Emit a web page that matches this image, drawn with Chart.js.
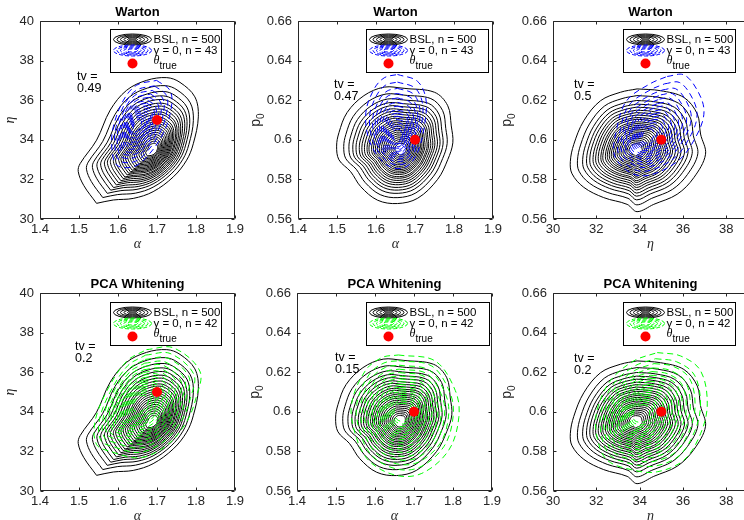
<!DOCTYPE html>
<html>
<head>
<meta charset="utf-8">
<script src="https://cdn.jsdelivr.net/npm/chart.js@4.4.1/dist/chart.umd.min.js"></script>
<style>
  body { margin: 0; background: #fff; }
  #fig { position: relative; width: 744px; height: 520px; overflow: hidden; background: #fff; }
  #fig canvas { position: absolute; }
</style>
</head>
<body>
<div id="fig"></div>
<script>
// tick labels
const alphaTicks = [1.4, 1.5, 1.6, 1.7, 1.8, 1.9];
const etaTicks = [30, 32, 34, 36, 38, 40];
const etaXTicks = [30, 32, 34, 36, 38];
const p0Ticks = [0.56, 0.58, 0.6, 0.62, 0.64, 0.66];

// true parameters: alpha, eta, p0
const thetaTrue = [1.7, 35, 0.6];

// row titles, sample sizes and tv values
const rowTitles = ['Warton', 'PCA Whitening'];
const nBSL = 500;
const nGamma = [43, 42];
const tvWarton = [0.49, 0.47, 0.5];
const tvPCA = [0.2, 0.15, 0.2];

const bslAE = [[1.545, 30.79], [1.512, 31.7], [1.498, 32.4], [1.503, 32.8], [1.545, 33.98], [1.58, 35.5],
  [1.622, 36.5], [1.673, 37.0], [1.725, 37.14], [1.759, 36.9], [1.797, 36.17], [1.806, 35.16],
  [1.793, 33.8], [1.776, 32.97], [1.742, 32.13], [1.69, 31.38], [1.639, 31.04], [1.588, 30.96]];
const bslAECentre = [1.69, 33.45];
const blueAE = [[1.699, 37.0], [1.733, 36.5], [1.737, 35.66], [1.716, 34.32], [1.674, 33.14], [1.639, 32.64],
  [1.597, 32.72], [1.584, 33.65], [1.588, 34.66], [1.614, 36.0], [1.648, 36.76]];
const blueAECentre = [1.648, 34.7];
const greenAE = [[1.673, 37.14], [1.742, 37.23], [1.81, 36.05], [1.8, 34.7], [1.776, 33.5], [1.725, 32.3],
  [1.656, 31.68], [1.58, 32.0], [1.545, 32.35], [1.541, 33.5], [1.571, 35.04], [1.622, 36.55]];
const greenAECentre = [1.655, 34.4];

const bslAP = [[1.672, 0.626], [1.75, 0.624], [1.784, 0.6172], [1.793, 0.607], [1.797, 0.5985], [1.784, 0.59],
  [1.758, 0.58], [1.707, 0.5705], [1.655, 0.5678], [1.604, 0.5695], [1.561, 0.5763], [1.535, 0.5839],
  [1.505, 0.5899], [1.499, 0.5968], [1.505, 0.6036], [1.526, 0.6138], [1.569, 0.6223], [1.621, 0.6266]];
const bslAPCentre = [1.665, 0.595];
const blueAP = [[1.655, 0.633], [1.706, 0.6296], [1.728, 0.6206], [1.724, 0.607], [1.706, 0.5934], [1.68, 0.5867],
  [1.646, 0.5857], [1.612, 0.59], [1.582, 0.6], [1.574, 0.6138], [1.595, 0.6256], [1.621, 0.6313]];
const blueAPCentre = [1.655, 0.601];
const greenAP = [[1.66, 0.6287], [1.754, 0.6257], [1.806, 0.6107], [1.815, 0.5973], [1.789, 0.5806], [1.72, 0.5689],
  [1.652, 0.568], [1.583, 0.5756], [1.549, 0.589], [1.54, 0.604], [1.575, 0.6207], [1.618, 0.6274]];
const greenAPCentre = [1.668, 0.6];

const bslEP = [[33.88, 0.6257], [34.96, 0.6248], [36.04, 0.6214], [36.66, 0.613], [36.81, 0.6029], [37.04, 0.5927],
  [36.5, 0.5809], [35.73, 0.5725], [34.65, 0.5674], [33.88, 0.5637], [33.42, 0.5674], [32.34, 0.5708],
  [31.42, 0.576], [30.88, 0.5828], [30.8, 0.589], [30.96, 0.5977], [31.42, 0.6096], [32.19, 0.6197], [33.11, 0.624]];
const bslEPCentre = [33.8, 0.595];
const blueEP = [[35.27, 0.632], [36.04, 0.6328], [36.66, 0.625], [36.97, 0.6145], [36.66, 0.6029], [35.73, 0.589],
  [34.04, 0.5818], [32.88, 0.591], [32.96, 0.6064], [33.42, 0.62], [34.5, 0.6284]];
const blueEPCentre = [34.3, 0.601];
const greenEP = [[34.81, 0.6299], [35.89, 0.6282], [36.81, 0.6207], [37.12, 0.604], [36.81, 0.5889], [36.04, 0.5756],
  [34.81, 0.5697], [33.73, 0.5705], [32.5, 0.5756], [32.03, 0.5873], [32.03, 0.6006], [32.65, 0.6157], [33.73, 0.6257]];
const greenEPCentre = [34.0, 0.599];

// relative size of each drawn contour level
const bslLevels = [1, 0.89, 0.81, 0.75, 0.7, 0.65, 0.61, 0.57, 0.53, 0.5, 0.46, 0.43, 0.4, 0.37, 0.34, 0.31, 0.28, 0.25, 0.22, 0.19, 0.16, 0.13, 0.1];
const blueLevels = [1, 0.88, 0.78, 0.7, 0.63, 0.56, 0.5, 0.44, 0.39, 0.34, 0.29, 0.24, 0.19, 0.14];
const greenLevels = [1, 0.9, 0.82, 0.75, 0.69, 0.63, 0.58, 0.53, 0.48, 0.43, 0.39, 0.35, 0.31, 0.27, 0.23, 0.19, 0.15];

const axes = {
  alpha: { min: 1.4, max: 1.9, ticks: alphaTicks, label: 'α' },
  eta: { min: 30, max: 40, ticks: etaTicks, label: 'η' },
  etaX: { min: 30, max: 39, ticks: etaXTicks, label: 'η' },
  p0: { min: 0.56, max: 0.66, ticks: p0Ticks, label: 'p0' }
};
const columns = [
  { x: 'alpha', y: 'eta', bsl: [bslAE, bslAECentre], gw: [blueAE, blueAECentre], gp: [greenAE, greenAECentre], dot: [thetaTrue[0], thetaTrue[1]] },
  { x: 'alpha', y: 'p0', bsl: [bslAP, bslAPCentre], gw: [blueAP, blueAPCentre], gp: [greenAP, greenAPCentre], dot: [thetaTrue[0], thetaTrue[2]] },
  { x: 'etaX', y: 'p0', bsl: [bslEP, bslEPCentre], gw: [blueEP, blueEPCentre], gp: [greenEP, greenEPCentre], dot: [thetaTrue[1], thetaTrue[2]] }
];

// page layout of the six axes
const panels = [
  { row: 0, col: 0, left: 40, top: 21, yGap: 30, tv: [77, 77], leg: [110, 29, 111] },
  { row: 0, col: 1, left: 298, top: 21, yGap: 42, tv: [334, 85], leg: [366, 29, 122] },
  { row: 0, col: 2, left: 553, top: 21, yGap: 46, tv: [574, 85], leg: [623, 29, 112] },
  { row: 1, col: 0, left: 40, top: 293, yGap: 30, tv: [75, 347], leg: [110, 302, 111] },
  { row: 1, col: 1, left: 297, top: 293, yGap: 42, tv: [335, 358], leg: [366, 302, 123] },
  { row: 1, col: 2, left: 553, top: 293, yGap: 46, tv: [574, 359], leg: [623, 302, 112] }
];
const W = 195, H = 198;
const padL = 52, padT = 24, padR = 14, padB = 36;
const ink = '#262626';
const sans = '"Liberation Sans", Arial, sans-serif';
const serif = '"Liberation Serif", "Times New Roman", serif';

function rings(outer, centre, levels) {
  const loop = outer.concat([outer[0]]);
  return levels.map(s => loop.map(([x, y]) => ({ x: centre[0] + s * (x - centre[0]), y: centre[1] + s * (y - centre[1]) })));
}

function legendIcon(ctx, cx, cy, colour, dashed) {
  ctx.save();
  ctx.strokeStyle = colour;
  ctx.lineWidth = 1;
  if (dashed) ctx.setLineDash([4, 2]);
  [[19, 5.5], [15.5, 4.5], [12, 3.5], [8.5, 2.5], [5, 1.6]].forEach(([rx, ry]) => {
    ctx.beginPath();
    ctx.ellipse(cx, cy, rx, ry, 0, 0, Math.PI * 2);
    ctx.stroke();
  });
  if (!dashed) {
    ctx.fillStyle = '#555';
    ctx.beginPath();
    ctx.ellipse(cx, cy, 4, 1.3, 0, 0, Math.PI * 2);
    ctx.fill();
  }
  ctx.restore();
}

const deco = {
  id: 'deco',
  afterDraw(chart, args, o) {
    const { ctx, chartArea: a } = chart;
    const xs = chart.scales.x, ys = chart.scales.y;
    const L = Math.round(a.left) + 0.5, T = Math.round(a.top) + 0.5;
    const R = Math.round(a.right) - 0.5, B = Math.round(a.bottom) - 0.5;
    ctx.save();
    // axes box with inward ticks
    ctx.strokeStyle = ink;
    ctx.lineWidth = 1;
    ctx.beginPath();
    ctx.rect(L, T, R - L, B - T);
    xs.ticks.forEach(t => {
      const p = Math.round(xs.getPixelForValue(t.value)) + 0.5;
      ctx.moveTo(p, B); ctx.lineTo(p, B - 3);
      ctx.moveTo(p, T); ctx.lineTo(p, T + 3);
    });
    ys.ticks.forEach(t => {
      const p = Math.round(ys.getPixelForValue(t.value)) + 0.5;
      ctx.moveTo(L, p); ctx.lineTo(L + 3, p);
      ctx.moveTo(R, p); ctx.lineTo(R - 3, p);
    });
    ctx.stroke();

    // title
    const cx = (a.left + a.right) / 2;
    ctx.fillStyle = '#000';
    ctx.font = 'bold 13px ' + sans;
    ctx.textAlign = 'center';
    ctx.textBaseline = 'middle';
    ctx.fillText(o.title, cx, a.top - 9);

    // x label
    ctx.fillStyle = ink;
    ctx.font = 'italic 14px ' + serif;
    ctx.fillText(o.xLabel, cx, a.bottom + 25);

    // y label, rotated
    ctx.save();
    ctx.translate(a.left - o.yGap, (a.top + a.bottom) / 2);
    ctx.rotate(-Math.PI / 2);
    if (o.yLabel === 'p0') {
      ctx.font = '14px ' + sans;
      const w1 = ctx.measureText('p').width;
      ctx.font = '10px ' + sans;
      const w2 = ctx.measureText('0').width;
      const x0 = -(w1 + w2) / 2;
      ctx.textAlign = 'left';
      ctx.font = '14px ' + sans;
      ctx.fillText('p', x0, 0);
      ctx.font = '10px ' + sans;
      ctx.fillText('0', x0 + w1, 5);
    } else {
      ctx.font = 'italic 14px ' + serif;
      ctx.fillText(o.yLabel, 0, 0);
    }
    ctx.restore();

    // tv text
    const ox = o.offset[0], oy = o.offset[1];
    ctx.font = '12.5px ' + sans;
    ctx.textAlign = 'left';
    ctx.fillStyle = '#000';
    ctx.fillText('tv =', o.tv[0] - ox, o.tv[1] - oy);
    ctx.fillText(String(o.tvValue), o.tv[0] - ox, o.tv[1] - oy + 12);

    // legend
    const lx = o.leg[0] - ox + 0.5, ly = o.leg[1] - oy + 0.5, lw = o.leg[2], lh = 43;
    ctx.fillStyle = '#fff';
    ctx.fillRect(lx, ly, lw, lh);
    ctx.strokeStyle = '#000';
    ctx.strokeRect(lx, ly, lw, lh);
    legendIcon(ctx, lx + 22, ly + 10, '#000', false);
    legendIcon(ctx, lx + 22, ly + 21, o.colour, true);
    ctx.fillStyle = '#f00';
    ctx.beginPath();
    ctx.arc(lx + 22, ly + 34, 5, 0, Math.PI * 2);
    ctx.fill();
    ctx.fillStyle = '#000';
    ctx.font = '11.5px ' + sans;
    ctx.fillText('BSL, n = ' + nBSL, lx + 43, ly + 10);
    ctx.fillText('γ = 0, n = ' + o.n, lx + 43, ly + 21);
    ctx.font = 'italic 12px ' + serif;
    ctx.fillText('θ', lx + 43, ly + 31);
    ctx.font = '10px ' + sans;
    ctx.fillText('true', lx + 49, ly + 37);
    ctx.restore();
  }
};

const fig = document.getElementById('fig');
panels.forEach(p => {
  const col = columns[p.col];
  const ax = axes[col.x], ay = axes[col.y];
  const colour = p.row === 0 ? '#0000ff' : '#00ff00';
  const other = p.row === 0 ? col.gw : col.gp;
  const otherLevels = p.row === 0 ? blueLevels : greenLevels;

  const canvas = document.createElement('canvas');
  const offset = [p.left - padL, p.top - padT];
  canvas.width = padL + W + padR;
  canvas.height = padT + H + padB;
  canvas.style.left = offset[0] + 'px';
  canvas.style.top = offset[1] + 'px';
  fig.appendChild(canvas);

  const datasets = [{
    data: [{ x: col.dot[0], y: col.dot[1] }],
    pointRadius: 5, pointBackgroundColor: '#ff0000', pointBorderWidth: 0, showLine: false, order: 0
  }];
  rings(other[0], other[1], otherLevels).forEach(r => datasets.push({
    data: r, showLine: true, pointRadius: 0, borderColor: colour, borderWidth: 1,
    borderDash: [6, 4], tension: 0.35, order: 1
  }));
  rings(col.bsl[0], col.bsl[1], bslLevels).forEach(r => datasets.push({
    data: r, showLine: true, pointRadius: 0, borderColor: '#000', borderWidth: 1,
    tension: 0.35, order: 2
  }));

  const tickFmt = v => String(+Number(v).toFixed(2));
  new Chart(canvas, {
    type: 'scatter',
    data: { datasets },
    options: {
      responsive: false,
      animation: false,
      events: [],
      layout: { padding: { left: 0, top: padT, right: padR, bottom: 0 } },
      scales: {
        x: {
          type: 'linear', min: ax.min, max: ax.max,
          afterBuildTicks: s => { s.ticks = ax.ticks.map(v => ({ value: v })); },
          afterFit: s => { s.height = padB; },
          grid: { display: false, drawTicks: false }, border: { display: false },
          ticks: { color: ink, font: { family: sans, size: 13 }, padding: 3, maxRotation: 0, autoSkip: false, callback: tickFmt }
        },
        y: {
          type: 'linear', min: ay.min, max: ay.max,
          afterBuildTicks: s => { s.ticks = ay.ticks.map(v => ({ value: v })); },
          afterFit: s => { s.width = padL; },
          grid: { display: false, drawTicks: false }, border: { display: false },
          ticks: { color: ink, font: { family: sans, size: 13 }, padding: 6, autoSkip: false, callback: tickFmt }
        }
      },
      plugins: {
        legend: { display: false },
        tooltip: { enabled: false },
        deco: {
          title: rowTitles[p.row], xLabel: ax.label, yLabel: ay.label, yGap: p.yGap,
          tv: p.tv, tvValue: (p.row === 0 ? tvWarton : tvPCA)[p.col],
          leg: p.leg, colour, n: nGamma[p.row], offset
        }
      }
    },
    plugins: [deco]
  });
});
</script>
</body>
</html>
